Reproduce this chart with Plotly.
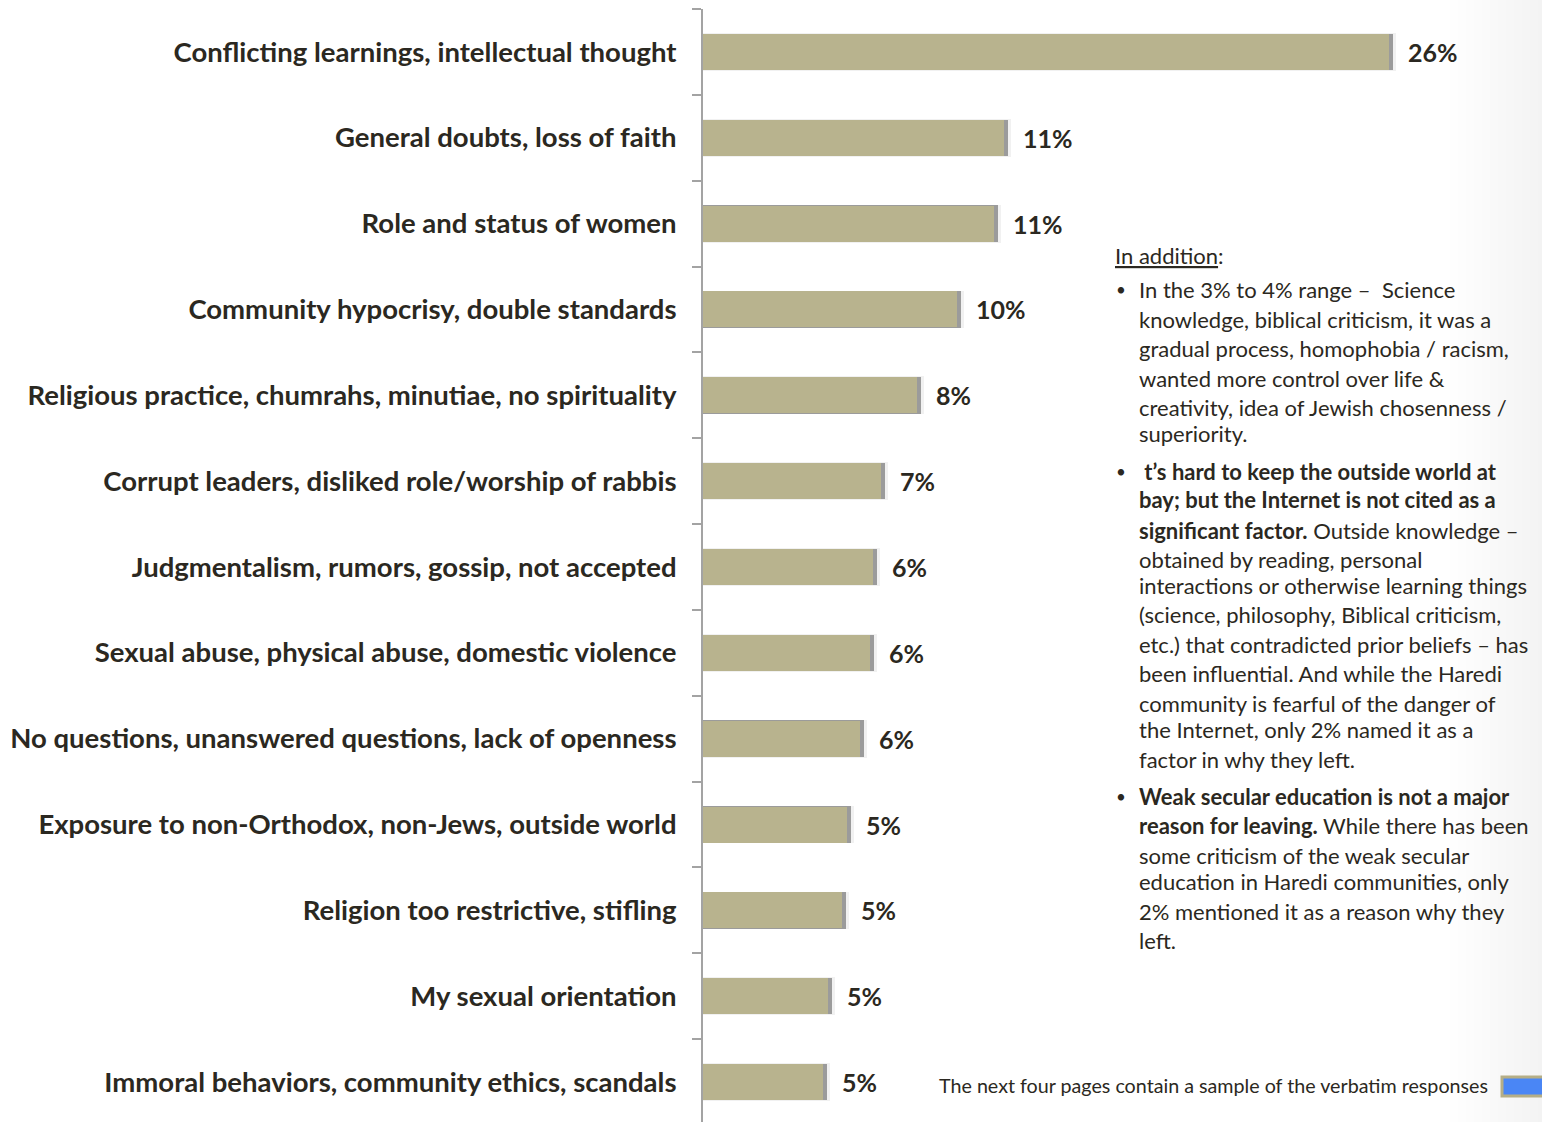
import plotly.graph_objects as go

# Reasons given for leaving, share of respondents (%)
reasons = [
    "Conflicting learnings, intellectual thought",
    "General doubts, loss of faith",
    "Role and status of women",
    "Community hypocrisy, double standards",
    "Religious practice, chumrahs, minutiae, no spirituality",
    "Corrupt leaders, disliked role/worship of rabbis",
    "Judgmentalism, rumors, gossip, not accepted",
    "Sexual abuse, physical abuse, domestic violence",
    "No questions, unanswered questions, lack of openness",
    "Exposure to non-Orthodox, non-Jews, outside world",
    "Religion too restrictive, stifling",
    "My sexual orientation",
    "Immoral behaviors, community ethics, scandals",
]
shares = [25.98, 11.40, 11.02, 9.62, 8.11, 6.74, 6.45, 6.33, 5.95, 5.45, 5.27, 4.73, 4.55]

heading = "<u>In addition</u>:"
bullets = [
    [
        "In the 3% to 4% range \u2013  Science",
        "knowledge, biblical criticism, it was a",
        "gradual process, homophobia / racism,",
        "wanted more control over life &",
        "creativity, idea of Jewish chosenness /",
        "superiority.",
    ],
    [
        "<b> t\u2019s hard to keep the outside world at</b>",
        "<b>bay; but the Internet is not cited as a</b>",
        "<b>significant factor.</b> Outside knowledge \u2013",
        "obtained by reading, personal",
        "interactions or otherwise learning things",
        "(science, philosophy, Biblical criticism,",
        "etc.) that contradicted prior beliefs \u2013 has",
        "been influential. And while the Haredi",
        "community is fearful of the danger of",
        "the Internet, only 2% named it as a",
        "factor in why they left.",
    ],
    [
        "<b>Weak secular education is not a major</b>",
        "<b>reason for leaving.</b> While there has been",
        "some criticism of the weak secular",
        "education in Haredi communities, only",
        "2% mentioned it as a reason why they",
        "left.",
    ],
]
footer = "The next four pages contain a sample of the verbatim responses"

W, H = 1542, 1122
BAR = "#b8b38e"
INK = "#2b2821"
FONT = "Lato"

def px(x):
    return x / W

def py(y):
    return 1 - y / H

fig = go.Figure()

# soft drop shadow behind each bar
fig.add_trace(go.Bar(
    y=reasons, x=[v + 0.26 for v in shares], orientation="h", width=0.44,
    marker=dict(color="rgba(120,120,120,0.10)", line=dict(width=0)),
    hoverinfo="skip", showlegend=False,
))
fig.add_trace(go.Bar(
    y=reasons, x=[v + 0.15 for v in shares], orientation="h", width=0.425,
    marker=dict(color="rgba(70,70,70,0.5)", line=dict(width=0)),
    hoverinfo="skip", showlegend=False,
))
fig.add_trace(go.Bar(
    y=reasons, x=shares, orientation="h", width=0.42,
    marker=dict(color=BAR, line=dict(width=0)),
    showlegend=False,
))

annotations = []
for r, v in zip(reasons, shares):
    annotations.append(dict(
        x=v, y=r, xref="x", yref="y", text=f"<b>{v:.0f}%</b>",
        xanchor="left", yanchor="middle", xshift=17, showarrow=False,
        font=dict(family=FONT, size=25, color=INK),
    ))

text_font = dict(family=FONT, size=22, color=INK)
annotations.append(dict(
    x=px(1113), y=py(255), xref="paper", yref="paper", text=heading,
    xanchor="left", yanchor="middle", showarrow=False, font=text_font,
))
line_rows = [
    [289, 319, 348, 378, 407, 433],
    [471, 500, 530, 559, 585, 614, 644, 673, 703, 729, 759],
    [796, 825, 855, 881, 911, 940],
]
for lines, rows in zip(bullets, line_rows):
    annotations.append(dict(
        x=px(1114), y=py(rows[0]), xref="paper", yref="paper", text="\u2022",
        xanchor="left", yanchor="middle", showarrow=False,
        font=dict(family=FONT, size=17, color=INK),
    ))
    for t, yy in zip(lines, rows):
        annotations.append(dict(
            x=px(1137), y=py(yy), xref="paper", yref="paper", text=t,
            xanchor="left", yanchor="middle", showarrow=False, font=text_font,
        ))
annotations.append(dict(
    x=px(937), y=py(1085), xref="paper", yref="paper", text=footer,
    xanchor="left", yanchor="middle", showarrow=False,
    font=dict(family=FONT, size=19.7, color=INK),
))

# faint shading that deepens toward the right edge of the page
shapes = []
for x0 in range(1450, 1542, 8):
    shapes.append(dict(type="rect", xref="paper", yref="paper", x0=px(x0), x1=1,
                       y0=0, y1=1, fillcolor="rgba(180,180,180,0.014)",
                       line=dict(width=0), layer="below"))
# navigation button
shapes.append(dict(type="rect", xref="paper", yref="paper", x0=px(1502), x1=px(1546),
                   y0=py(1096), y1=py(1077), fillcolor="#4a86f5",
                   line=dict(color="#b5ae86", width=3)))

fig.update_layout(
    width=W, height=H,
    margin=dict(l=0, r=0, t=0, b=0),
    paper_bgcolor="white", plot_bgcolor="rgba(0,0,0,0)",
    barmode="overlay", bargap=0,
    annotations=annotations, shapes=shapes,
    xaxis=dict(domain=[703 / W, 1], range=[0, (W - 703) / 26.4],
               visible=False, fixedrange=True),
    yaxis=dict(domain=[0, 1 - 9 / H], range=[12.465, -0.5],
               type="category", categoryorder="array", categoryarray=reasons,
               showline=True, linecolor="#a3a3a3", linewidth=2,
               ticks="outside", ticklen=9, tickcolor="#a3a3a3", tickwidth=2,
               tickson="boundaries", ticklabelstandoff=19,
               tickfont=dict(family=FONT, size=27.5, color=INK, weight="bold"),
               showgrid=False, zeroline=False, fixedrange=True),
)

fig.write_html("out.html")
